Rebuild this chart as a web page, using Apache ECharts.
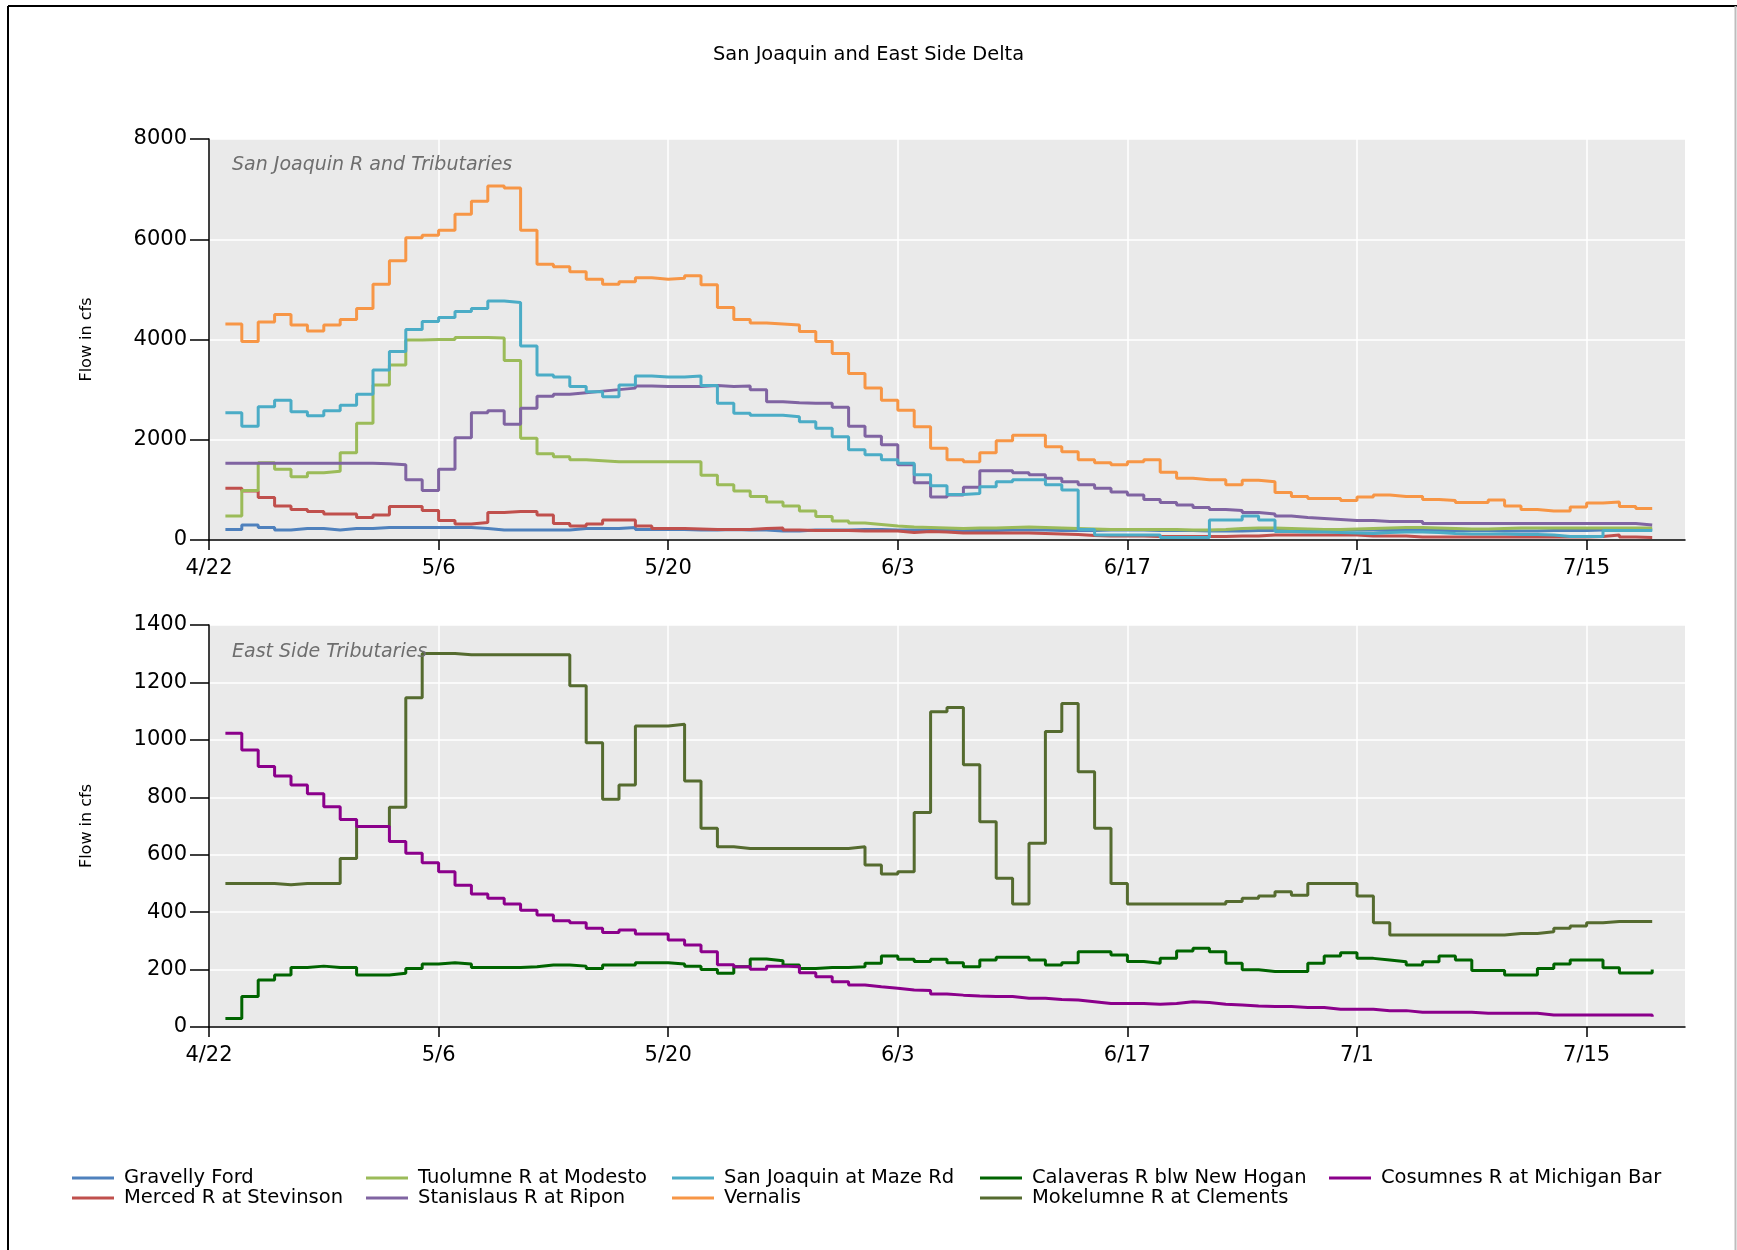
<!DOCTYPE html>
<html><head><meta charset="utf-8">
<script src="https://cdn.jsdelivr.net/npm/echarts@6/dist/echarts.min.js"></script>
<style>html,body{margin:0;padding:0;background:#fff}#c{width:1737px;height:1250px}</style>
</head><body><div id="c"></div>
<script>
// x values are days after 4/22; first reading is 4/23 (day 1), daily to 7/19 (day 88)
const tickLabels = ['4/22', '5/6', '5/20', '6/3', '6/17', '7/1', '7/15'];
const tickDays = [0, 14, 28, 42, 56, 70, 84];
const firstDay = 1;

const gravellyFord = [210,300,250,200,230,230,200,230,230,250, 250,250,250,250,250,230,200,200,200,200,
  200,230,230,230,250,210,210,210,200,200, 210,200,200,180,180,200,200,200,210,210,
  200,200,200,190,190,190,190,200,200,200, 190,190,190,200,200,200,190,190,190,180,
  180,180,190,190,190,200,200,200,200,200, 190,190,190,190,190,190,190,180,180,180,
  190,190,190,200,200,200,210,210];
const mercedR = [1030,980,850,680,610,570,520,520,450,500, 670,670,590,390,320,350,550,570,570,500,
  330,280,320,400,400,280,230,230,220,210, 210,210,230,240,200,190,190,190,180,180,
  180,150,170,160,140,140,140,140,140,130, 120,110,90,80,80,80,70,70,70,70,
  70,80,80,100,100,100,100,100,100,80, 80,80,60,60,60,60,60,60,60,60,
  60,60,60,70,100,60,50,50];
const tuolumneR = [480,990,1540,1410,1260,1340,1370,1740,2330,3090, 3490,3990,4000,4000,4040,4040,4030,3580,2030,1720,
  1660,1600,1580,1560,1560,1560,1560,1560,1560,1290, 1100,980,870,760,680,580,470,380,340,310,
  280,260,250,240,230,240,240,250,260,250, 240,230,220,210,210,210,210,210,200,200,
  210,230,240,240,230,220,210,210,220,230, 240,250,250,240,230,220,220,230,240,240,
  240,240,240,240,240,240,240,240];
const stanislausR = [1530,1530,1530,1530,1530,1530,1530,1530,1530,1520, 1500,1200,990,1410,2040,2540,2580,2310,2630,2870,
  2910,2940,2970,3000,3030,3070,3060,3060,3060,3080, 3060,3070,3000,2760,2740,2730,2730,2650,2270,2070,
  1900,1500,1140,860,900,1050,1380,1380,1340,1300, 1230,1160,1100,1030,960,900,810,750,700,650,
  610,590,550,520,480,450,430,410,390,390, 370,370,370,330,330,330,330,330,330,330,
  330,330,330,330,330,330,300,300];
const mazeRd = [2540,2270,2660,2790,2560,2480,2580,2690,2910,3390, 3760,4200,4360,4440,4560,4620,4770,4740,3870,3290,
  3250,3060,2960,2860,3090,3270,3250,3250,3270,3080, 2730,2530,2490,2490,2460,2360,2230,2060,1800,1700,
  1600,1530,1300,1080,910,930,1060,1160,1200,1200, 1100,1000,210,100,100,100,100,50,50,50,
  400,400,480,400,170,160,160,150,140,130, 150,160,160,150,130,120,120,120,110,110,
  100,70,70,70,190,190,190,190];
const vernalis = [4310,3960,4350,4500,4290,4170,4290,4400,4620,5100, 5570,6030,6080,6180,6500,6760,7060,7020,6180,5500,
  5450,5350,5200,5100,5150,5230,5200,5220,5270,5090, 4640,4400,4330,4310,4290,4160,3960,3720,3320,3030,
  2790,2590,2260,1830,1600,1560,1740,1980,2090,2090, 1860,1760,1600,1540,1500,1560,1600,1350,1230,1200,
  1200,1100,1190,1160,950,870,830,830,790,860, 900,870,870,810,790,750,750,800,680,610,
  580,580,660,740,760,670,630,630];
const calaverasR = [30,106,164,181,207,212,207,207,181,181, 187,204,219,224,219,207,207,207,210,216,
  216,212,204,216,216,224,224,219,212,200, 187,210,237,231,216,204,207,207,210,222,
  247,236,228,236,224,210,233,243,243,233, 216,224,262,262,251,228,222,239,265,274,
  262,222,199,193,193,193,222,247,259,239, 233,227,216,227,247,233,197,197,181,181,
  204,219,233,233,206,188,188,200];
const mokelumneR = [500,500,500,495,500,500,500,587,698,698, 765,1147,1301,1301,1296,1296,1296,1296,1296,1296,
  1296,1188,990,793,843,1048,1048,1054,857,692, 628,622,622,622,622,622,622,622,628,564,
  533,541,747,1098,1113,913,715,518,428,640, 1029,1127,889,692,500,428,428,428,428,428,
  428,437,448,456,471,459,500,500,500,456, 363,320,320,320,320,320,320,320,326,326,
  332,344,352,363,367,367,367,367];
const cosumnesR = [1023,965,907,874,843,812,767,723,698,698, 646,605,572,541,494,463,448,428,407,390,
  370,363,344,329,338,324,324,303,286,262, 217,210,201,212,210,189,175,158,146,140,
  135,129,127,115,111,108,106,106,100,100, 96,94,88,82,82,82,79,82,88,85,
  79,77,73,71,71,68,68,62,62,62, 57,57,51,51,51,51,48,48,48,48,
  42,42,42,42,42,42,42,36];

const seriesDefs = [
  { name: 'Gravelly Ford', data: gravellyFord, color: '#4F81BD', grid: 0 },
  { name: 'Merced R at Stevinson', data: mercedR, color: '#C0504D', grid: 0 },
  { name: 'Tuolumne R at Modesto', data: tuolumneR, color: '#9BBB59', grid: 0 },
  { name: 'Stanislaus R at Ripon', data: stanislausR, color: '#8064A2', grid: 0 },
  { name: 'San Joaquin at Maze Rd', data: mazeRd, color: '#4BACC6', grid: 0 },
  { name: 'Vernalis', data: vernalis, color: '#F79646', grid: 0 },
  { name: 'Calaveras R blw New Hogan', data: calaverasR, color: '#006400', grid: 1 },
  { name: 'Mokelumne R at Clements', data: mokelumneR, color: '#556B2F', grid: 1 },
  { name: 'Cosumnes R at Michigan Bar', data: cosumnesR, color: '#8B008B', grid: 1 }
];
const legendColumns = [
  ['Gravelly Ford', 'Merced R at Stevinson'],
  ['Tuolumne R at Modesto', 'Stanislaus R at Ripon'],
  ['San Joaquin at Maze Rd', 'Vernalis'],
  ['Calaveras R blw New Hogan', 'Mokelumne R at Clements'],
  ['Cosumnes R at Michigan Bar']
];
const legendLefts = [72, 366, 672, 980, 1329];

const FONT = 'DejaVu Sans';
function xAxisCfg(gridIndex) {
  return {
    type: 'value', gridIndex, min: 0, max: 90, interval: 14,
    axisLine: { show: true, lineStyle: { color: '#000', width: 1.5 } },
    axisTick: { show: true, length: 10, customValues: tickDays, lineStyle: { color: '#000', width: 1.5 } },
    axisLabel: { customValues: tickDays, margin: 18, fontFamily: FONT, fontSize: 21, color: '#000',
      formatter: v => { const i = tickDays.indexOf(v); return i >= 0 ? tickLabels[i] : ''; } },
    splitLine: { show: true, lineStyle: { color: '#ffffff', width: 1.5 } }
  };
}
function yAxisCfg(gridIndex, max, interval) {
  return {
    type: 'value', gridIndex, min: 0, max, interval,
    name: 'Flow in cfs', nameLocation: 'middle', nameGap: 114,
    nameTextStyle: { fontFamily: FONT, fontSize: 16, color: '#000' },
    axisLine: { show: true, lineStyle: { color: '#000', width: 1.5 } },
    axisTick: { show: true, length: 19, lineStyle: { color: '#000', width: 1.5 } },
    axisLabel: { margin: 22, fontFamily: FONT, fontSize: 21, color: '#000', formatter: v => String(v) },
    splitLine: { show: true, lineStyle: { color: '#ffffff', width: 1.5 } }
  };
}

const option = {
  animation: false,
  backgroundColor: '#ffffff',
  title: [{ text: 'San Joaquin and East Side Delta', left: 'center', top: 45, padding: 0,
    textStyle: { fontFamily: FONT, fontSize: 19.4, fontWeight: 'normal', color: '#000' } }],
  grid: [
    { left: 209, right: 52, top: 139, height: 401, show: true, backgroundColor: '#EAEAEA', borderWidth: 0 },
    { left: 209, right: 52, top: 625, height: 402, show: true, backgroundColor: '#EAEAEA', borderWidth: 0 }
  ],
  xAxis: [xAxisCfg(0), xAxisCfg(1)],
  yAxis: [yAxisCfg(0, 8000, 2000), yAxisCfg(1, 1400, 200)],
  legend: legendColumns.map((items, i) => ({
    data: items, orient: 'vertical', left: legendLefts[i], top: 1168, itemGap: 0,
    itemWidth: 42, itemHeight: 3, icon: 'rect', padding: 0,
    textStyle: { fontFamily: FONT, fontSize: 19.5, color: '#000', padding: [0, 0, 0, 5] }
  })),
  graphic: [
    { type: 'line', shape: { x1: 8, y1: 6, x2: 1737, y2: 6 }, style: { stroke: '#000', lineWidth: 2 } },
    { type: 'line', shape: { x1: 8, y1: 6, x2: 8, y2: 1250 }, style: { stroke: '#000', lineWidth: 2 } },
    { type: 'line', shape: { x1: 1735.5, y1: 6, x2: 1735.5, y2: 1250 }, style: { stroke: '#bdbdbd', lineWidth: 2 } },
    { type: 'text', left: 232, top: 156, z: 10,
      style: { text: 'San Joaquin R and Tributaries', font: 'italic 19px "DejaVu Sans"', fill: '#6e6e6e' } },
    { type: 'text', left: 232, top: 643, z: 10,
      style: { text: 'East Side Tributaries', font: 'italic 19px "DejaVu Sans"', fill: '#6e6e6e' } }
  ],
  series: seriesDefs.map(s => ({
    name: s.name, type: 'line', step: 'end', xAxisIndex: s.grid, yAxisIndex: s.grid,
    symbol: 'none', showSymbol: false, color: s.color,
    lineStyle: { color: s.color, width: 3 },
    data: s.data.map((v, i) => [i + firstDay, v])
  }))
};
const chart = echarts.init(document.getElementById('c'), null, { renderer: 'canvas' });
chart.setOption(option);
</script></body></html>
